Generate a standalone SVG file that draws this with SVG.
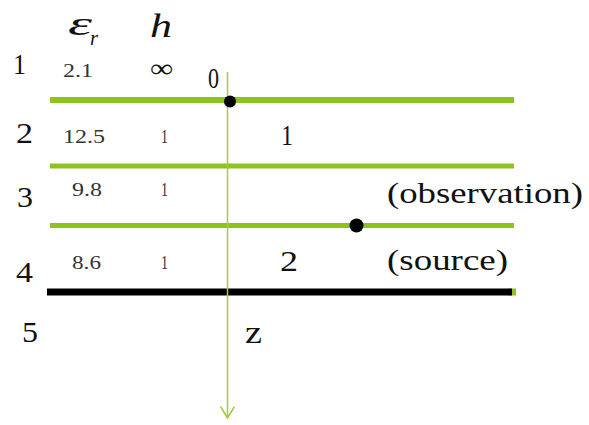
<svg xmlns="http://www.w3.org/2000/svg" width="589" height="425" viewBox="0 0 589 425">
<style>
.g{stroke:#8dc21f;fill:none}
text{font-family:'Liberation Serif','DejaVu Serif',serif;fill:#111}
.big{font-size:30px}
.sm{font-size:18px;fill:#333}
.it{font-style:italic;font-size:34px}
</style>
<defs>
<marker id="arr" markerWidth="14" markerHeight="16" refX="11" refY="7" orient="auto" markerUnits="userSpaceOnUse" viewBox="0 0 12 14">
<path d="M1 1 L11 7 L1 13" fill="none" stroke="#a8c84a" stroke-width="1.5"/>
</marker>
</defs>
<rect width="589" height="425" fill="#fff"/>
<g id="layers">
<line class="g" x1="50" y1="100" x2="514" y2="100" stroke-width="6"/>
<line class="g" x1="50" y1="166" x2="514" y2="166" stroke-width="5"/>
<line class="g" x1="50" y1="225.5" x2="514" y2="225.5" stroke-width="5"/>
<line class="g" x1="508" y1="292" x2="516" y2="292" stroke-width="7"/>
<line x1="47" y1="292" x2="512" y2="292" stroke="#000" stroke-width="7"/>
</g>
<g id="connectors">
<line x1="227.5" y1="72" x2="227.5" y2="418" stroke="#a8c84a" stroke-width="1.5" marker-end="url(#arr)"/>
</g>
<g id="points">
<circle cx="230" cy="101.5" r="6" fill="#000"/>
<circle cx="356.5" cy="225.5" r="7" fill="#000"/>
</g>
<g id="header" font-family="Liberation Serif, DejaVu Serif, serif">
<text class="it" x="68" y="35" textLength="24" lengthAdjust="spacingAndGlyphs">ε</text>
<text x="90" y="45" font-style="italic" font-size="20" textLength="8" lengthAdjust="spacingAndGlyphs">r</text>
<text class="it" x="150" y="37" textLength="22" lengthAdjust="spacingAndGlyphs">h</text>
</g>
<g id="region-numbers" font-family="Liberation Serif, DejaVu Serif, serif">
<text class="big" x="13" y="74" textLength="13" lengthAdjust="spacingAndGlyphs">1</text>
<text class="big" x="16" y="143" textLength="17" lengthAdjust="spacingAndGlyphs">2</text>
<text class="big" x="17" y="207" textLength="16" lengthAdjust="spacingAndGlyphs">3</text>
<text class="big" x="16" y="282" textLength="17" lengthAdjust="spacingAndGlyphs">4</text>
<text class="big" x="22" y="342" textLength="16" lengthAdjust="spacingAndGlyphs">5</text>
</g>
<g id="params" font-family="Liberation Serif, DejaVu Serif, serif">
<text class="sm" x="63" y="77" textLength="30" lengthAdjust="spacingAndGlyphs">2.1</text>
<text x="150" y="77" font-size="26" textLength="23" lengthAdjust="spacingAndGlyphs">∞</text>
<text class="sm" x="63" y="143" textLength="42" lengthAdjust="spacingAndGlyphs">12.5</text>
<text class="sm" x="161" y="143" textLength="7" lengthAdjust="spacingAndGlyphs">1</text>
<text class="sm" x="72" y="196" textLength="30" lengthAdjust="spacingAndGlyphs">9.8</text>
<text class="sm" x="161" y="196" textLength="7" lengthAdjust="spacingAndGlyphs">1</text>
<text class="sm" x="72" y="269" textLength="29" lengthAdjust="spacingAndGlyphs">8.6</text>
<text class="sm" x="161" y="269" textLength="7" lengthAdjust="spacingAndGlyphs">1</text>
</g>
<g id="labels" font-family="Liberation Serif, DejaVu Serif, serif">
<text class="big" x="208" y="88" textLength="11" lengthAdjust="spacingAndGlyphs">0</text>
<text class="big" x="281" y="145" textLength="12" lengthAdjust="spacingAndGlyphs">1</text>
<text class="big" x="280" y="271" textLength="18" lengthAdjust="spacingAndGlyphs">2</text>
<text class="big" x="387" y="203" textLength="196" lengthAdjust="spacingAndGlyphs">(observation)</text>
<text class="big" x="387" y="270" textLength="121" lengthAdjust="spacingAndGlyphs">(source)</text>
<text x="245" y="343" font-size="32" textLength="17" lengthAdjust="spacingAndGlyphs">z</text>
</g>
</svg>
